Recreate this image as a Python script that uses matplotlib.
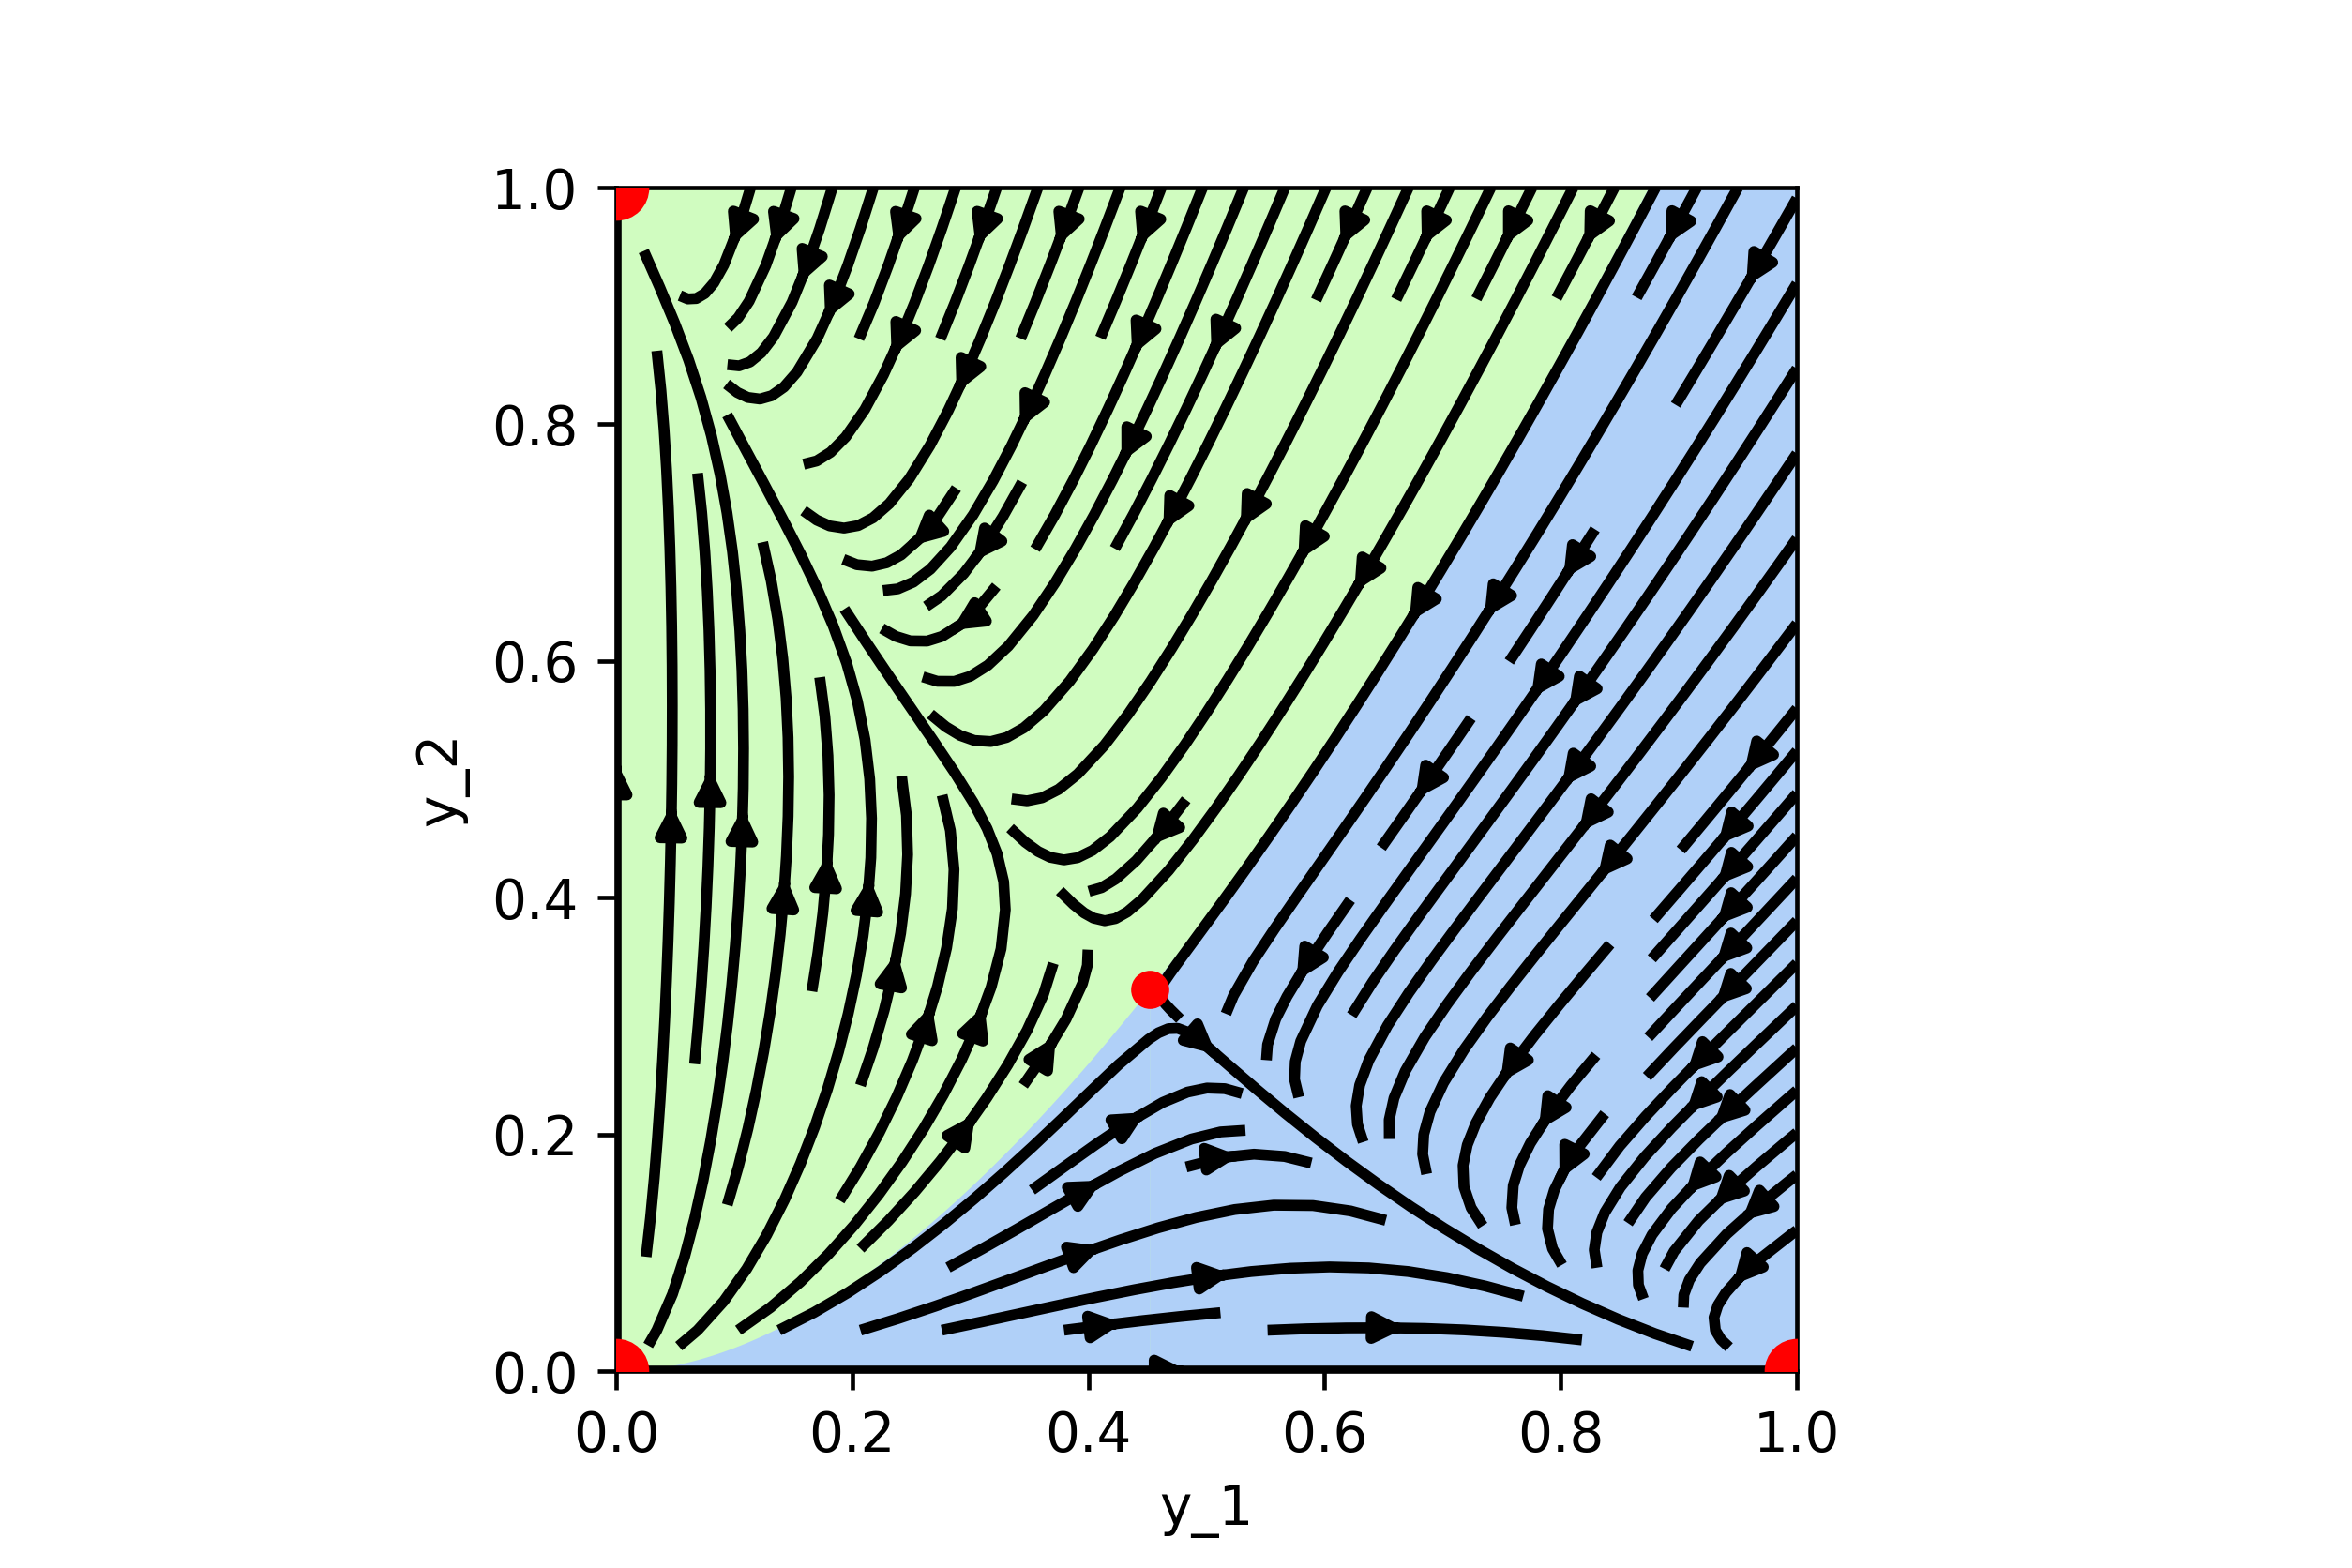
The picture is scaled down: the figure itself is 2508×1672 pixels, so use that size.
import numpy as np
import matplotlib
matplotlib.use("Agg")
import matplotlib.pyplot as plt

r1 = 1.0
r2 = 2.0
a12 = 1.7
a21 = 1.5

# fixed points
corner_x = [0.0, 0.0, 1.0]
corner_y = [0.0, 1.0, 0.0]
saddle_x = (1 - a12) / (1 - a12 * a21)
saddle_y = (1 - a21) / (1 - a12 * a21)

green = '#d0fcc0'
blue = '#b0d0f8'


def field(y1, y2):
    dy1 = r1 * y1 * (1 - y1 - a12 * y2)
    dy2 = r2 * y2 * (1 - y2 - a21 * y1)
    return dy1, dy2


def trace_back(p, h=0.002, nmax=20000):
    # integrate backwards in time (RK4) from p
    pts = [p]
    x, y = p
    for _ in range(nmax):
        k1 = field(x, y)
        k2 = field(x - 0.5 * h * k1[0], y - 0.5 * h * k1[1])
        k3 = field(x - 0.5 * h * k2[0], y - 0.5 * h * k2[1])
        k4 = field(x - h * k3[0], y - h * k3[1])
        x = x - h / 6 * (k1[0] + 2 * k2[0] + 2 * k3[0] + k4[0])
        y = y - h / 6 * (k1[1] + 2 * k2[1] + 2 * k3[1] + k4[1])
        pts.append((x, y))
        if y > 1.05 or x > 1.05 or (x < 1e-4 and y < 1e-4):
            break
    return np.array(pts)


# stable eigenvector of the saddle -> basin boundary
J = np.array([[-r1 * saddle_x, -r1 * a12 * saddle_x],
              [-r2 * a21 * saddle_y, -r2 * saddle_y]])
w, v = np.linalg.eig(J)
vs = v[:, np.argmin(w)]
if vs[0] < 0:
    vs = -vs
eps = 1e-4
upper = trace_back((saddle_x + eps * vs[0], saddle_y + eps * vs[1]))
lower = trace_back((saddle_x - eps * vs[0], saddle_y - eps * vs[1]))
lower = lower[::-1]
lower = np.vstack([[0.0, 0.0], lower])
upper = np.vstack([upper, [[1.0, 1.05]]])

y1 = np.linspace(0, 1, 200)
y2 = np.linspace(0, 1, 200)
Y1, Y2 = np.meshgrid(y1, y2)
U, V = field(Y1, Y2)

fig = plt.figure(figsize=(6, 4), dpi=418)
ax = fig.add_axes([657 / 2508, 210 / 1672, 1259 / 2508, 1262 / 1672])
ax.set_facecolor(green)
ax.fill_between(lower[:, 0], 0, lower[:, 1], color=blue, lw=0)
ax.fill_between(upper[:, 0], 0, np.minimum(upper[:, 1], 1.05), color=blue, lw=0)

ax.streamplot(Y1, Y2, U, V, color='k', linewidth=2, density=1)

ax.plot(corner_x, corner_y, 'o', color='red', ms=11, zorder=5)
ax.plot(saddle_x, saddle_y, 'o', color='red', ms=6, zorder=5)

ax.set_xlim(0, 1)
ax.set_ylim(0, 1)
ax.set_xlabel('y_1')
ax.set_ylabel('y_2')

fig.savefig('out.png', dpi=418)
